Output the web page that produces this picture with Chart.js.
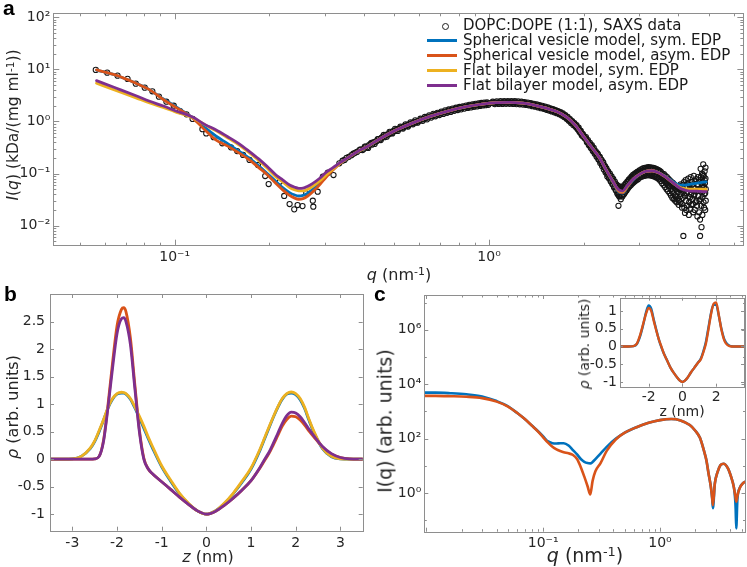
<!DOCTYPE html>
<html><head><meta charset="utf-8">
<script src="https://cdn.jsdelivr.net/npm/chart.js@4.4.1/dist/chart.umd.min.js"></script>
<style>
body{margin:0;background:#fff;}
#wrap{position:relative;width:747px;height:567px;overflow:hidden;background:#fff;font-family:'DejaVu Sans',sans-serif;color:#262626;}
canvas{position:absolute;}
.t{position:absolute;white-space:nowrap;line-height:1;}
.rot{transform:translate(-50%,-50%) rotate(-90deg);}
.ctr{transform:translate(-50%,-50%);}
sup{font-size:68%;vertical-align:0.45em;line-height:0;}
.lbl{position:absolute;font-family:'Liberation Sans',Arial,sans-serif;font-weight:bold;font-size:21px;line-height:21px;color:#000;}
.lg{position:absolute;font-size:15px;line-height:18px;white-space:nowrap;color:#1a1a1a;}
</style></head>
<body>
<div id="wrap">
<canvas id="ca" width="747" height="285" style="left:0;top:0"></canvas>
<canvas id="cb" width="372" height="287" style="left:0;top:280px"></canvas>
<canvas id="cc" width="375" height="287" style="left:372px;top:280px"></canvas>
<canvas id="ci" width="172" height="135" style="left:575px;top:285px"></canvas>

<div class="lbl" style="left:3px;top:-3px">a</div>
<div class="lbl" style="left:4px;top:283px">b</div>
<div class="lbl" style="left:374px;top:283px">c</div>

<div class="t rot" style="left:14px;top:125px;font-size:15.5px"><i>I</i>(<i>q</i>) (kDa/(mg ml<sup>-1</sup>))</div>
<div class="t ctr" style="left:399px;top:275px;font-size:16px"><i>q</i> (nm<sup>-1</sup>)</div>
<div class="t rot" style="left:13px;top:407px;font-size:16px"><i>ρ</i> (arb. units)</div>
<div class="t ctr" style="left:208px;top:557px;font-size:16px"><i>z</i> (nm)</div>
<div class="t rot" style="left:385px;top:421px;font-size:19px">I(q) (arb. units)</div>
<div class="t ctr" style="left:585px;top:555px;font-size:19px"><i>q</i> (nm<sup>-1</sup>)</div>
<div class="t rot" style="left:584px;top:344px;font-size:14px"><i>ρ</i> (arb. units)</div>
<div class="t ctr" style="left:682px;top:411px;font-size:14px">z (nm)</div>
<div id="legend"></div>
</div>
<script>
// ---------- Panel a: SAXS data (q in nm^-1, I in kDa/(mg ml^-1)) ----------
const saxsLowQ = [
[0.0561,9.8],[0.061,8.67],[0.0658,7.6],[0.0708,6.57],[0.0752,5.33],[0.0803,4.47],[0.0849,3.81],[0.0891,3.0],[0.0941,2.4],[0.0993,2.01],
[0.104,1.59],[0.109,1.37],[0.114,1.12],[0.1225,0.71],[0.126,0.59],[0.133,0.5],[0.1417,0.381],[0.151,0.319],[0.158,0.27],[0.165,0.227],
[0.173,0.182],[0.184,0.146],[0.194,0.0895],[0.199,0.0628],[0.216,0.0695],[0.223,0.037],[0.232,0.0259],[0.24,0.0205],[0.246,0.0248],[0.255,0.0237],
[0.262,0.0416],[0.275,0.03],[0.276,0.023],[0.285,0.0447],[0.296,0.0867],[0.307,0.1036],[0.32,0.0935],[0.334,0.157],[0.342,0.176],[0.347,0.182],
[0.352,0.2],[0.358,0.21],[0.365,0.225],[0.37,0.24],[0.375,0.25],[0.38,0.26],[0.387,0.283],[0.39,0.29],[0.396,0.283]
];
const saxsMidQ = [
[0.400,0.30],[0.405,0.33],[0.410,0.32],[0.415,0.35],[0.420,0.37],[0.425,0.36],[0.430,0.40],[0.435,0.41],[0.440,0.42],[0.445,0.46],
[0.450,0.45],[0.455,0.49],[0.460,0.51],[0.465,0.50],[0.470,0.55],[0.475,0.56],[0.480,0.57],[0.485,0.61],[0.490,0.60],[0.495,0.65],
[0.500,0.67],[0.505,0.66],[0.510,0.71],[0.515,0.72],[0.520,0.73],[0.525,0.77],[0.530,0.76],[0.535,0.80],[0.540,0.82],[0.545,0.81],
[0.550,0.86],[0.555,0.87],[0.560,0.88],[0.565,0.92],[0.570,0.91],[0.575,0.96],[0.580,0.97],[0.585,0.96],[0.590,1.01],[0.595,1.02],
[0.600,1.03],[0.61,1.09],[0.62,1.11],[0.63,1.17],[0.64,1.20],[0.65,1.26],[0.66,1.28],[0.67,1.34],[0.68,1.35],[0.69,1.41],
[0.70,1.43],[0.71,1.49],[0.72,1.50],[0.73,1.56],[0.74,1.57],[0.75,1.63],[0.76,1.64],[0.77,1.70],[0.78,1.71],[0.79,1.77],
[0.80,1.77],[0.81,1.83],[0.82,1.83],[0.83,1.89],[0.84,1.89],[0.85,1.94],[0.86,1.94],[0.87,1.99],[0.88,1.99],[0.89,2.04],
[0.90,2.04],[0.91,2.08],[0.92,2.08],[0.93,2.13],[0.94,2.12],[0.95,2.17],[0.96,2.16],[0.97,2.20],[0.98,2.19],[0.99,2.23],[1.00,2.22],
[0.4025,0.33],[0.4125,0.31],[0.4225,0.39],[0.4325,0.37],[0.4425,0.46],[0.4525,0.44],[0.4625,0.55],[0.4725,0.51],[0.4825,0.63],[0.4925,0.59],
[0.5025,0.72],[0.5125,0.66],[0.5225,0.80],[0.5325,0.73],[0.5425,0.88],[0.5525,0.80],[0.5625,0.96],[0.5725,0.88],[0.5825,1.05],[0.5925,0.95],
[0.605,1.13],[0.615,1.03],[0.625,1.22],[0.635,1.10],[0.645,1.31],[0.655,1.19],[0.665,1.40],[0.675,1.26],[0.685,1.47],[0.695,1.33],
[0.705,1.55],[0.715,1.40],[0.725,1.63],[0.735,1.47],[0.745,1.70],[0.755,1.53],[0.765,1.77],[0.775,1.60],[0.785,1.84],[0.795,1.66],
[0.805,1.90],[0.815,1.71],[0.825,1.96],[0.835,1.77],[0.845,2.02],[0.855,1.82],[0.865,2.08],[0.875,1.86],[0.885,2.13],[0.895,1.91],
[0.905,2.18],[0.915,1.95],[0.925,2.23],[0.935,1.99],[0.945,2.27],[0.955,2.03],[0.965,2.31],[0.975,2.06],[0.985,2.34],[0.995,2.09],
[1.02,2.27],[1.035,2.24],[1.05,2.32],[1.065,2.28],[1.08,2.34],[1.095,2.29],[1.11,2.35],[1.125,2.30],[1.14,2.36],[1.155,2.30],
[1.17,2.36],[1.185,2.29],[1.20,2.35],[1.215,2.28],[1.23,2.33],[1.245,2.26],[1.26,2.30],[1.275,2.22],[1.29,2.27],[1.305,2.18],
[1.32,2.23],[1.335,2.13],[1.35,2.18],[1.365,2.08],[1.38,2.12],[1.395,2.02],[1.41,2.06],[1.425,1.96],[1.44,2.00],[1.455,1.90],
[1.47,1.94],[1.485,1.83],[1.50,1.87],[1.515,1.77],[1.53,1.81],[1.545,1.70],[1.56,1.74],[1.575,1.64],[1.59,1.67],[1.605,1.58],
[1.62,1.61],[1.635,1.51],[1.65,1.55],[1.665,1.45],[1.68,1.48],[1.695,1.38],[1.71,1.40],[1.725,1.29],[1.74,1.31],[1.755,1.19],
[1.77,1.21],[1.785,1.09],[1.80,1.11],[1.815,1.00],[1.83,1.01],[1.845,0.92],[1.86,0.92],[1.875,0.84],[1.89,0.84],[1.905,0.75],
[1.92,0.74],[1.935,0.66],[1.95,0.66],[1.965,0.58],[1.98,0.58],[1.995,0.51],
[1.0275,2.40],[1.0425,2.16],[1.0575,2.44],[1.0725,2.17],[1.0875,2.45],[1.1025,2.18],[1.1175,2.46],[1.1325,2.19],[1.1475,2.47],[1.1625,2.19],
[1.1775,2.47],[1.1925,2.18],[1.2075,2.46],[1.2225,2.16],[1.2375,2.43],[1.2525,2.14],[1.2675,2.40],[1.2825,2.11],[1.2975,2.36],[1.3125,2.08],
[1.3275,2.31],[1.3425,2.03],[1.3575,2.26],[1.3725,1.97],[1.3875,2.19],[1.4025,1.92],[1.4175,2.13],[1.4325,1.86],[1.4475,2.07],[1.4625,1.80],
[1.4775,2.00],[1.4925,1.75],[1.5075,1.93],[1.5225,1.68],[1.5375,1.87],[1.5525,1.62],[1.5675,1.79],[1.5825,1.56],[1.5975,1.72],[1.6125,1.50],
[1.6275,1.65],[1.6425,1.44],[1.6575,1.59],[1.6725,1.38],[1.6875,1.52],[1.7025,1.31],[1.7175,1.43],[1.7325,1.22],[1.7475,1.33],[1.7625,1.13],
[1.7775,1.22],[1.7925,1.03],[1.8075,1.11],[1.8225,0.94],[1.8375,1.02],[1.8525,0.86],[1.8675,0.93],[1.8825,0.79],[1.8975,0.85],[1.9125,0.71],
[1.9275,0.76],[1.9425,0.62],[1.9575,0.66],[1.9725,0.54],[1.9875,0.57]
];
const saxsHighQ = [
[2.01,0.52],[2.025,0.47],[2.04,0.46],[2.055,0.41],[2.07,0.40],[2.085,0.36],[2.10,0.36],[2.115,0.32],[2.13,0.32],[2.145,0.28],
[2.16,0.28],[2.175,0.25],[2.19,0.25],[2.205,0.22],[2.22,0.23],[2.235,0.19],[2.25,0.21],[2.265,0.17],[2.28,0.18],[2.295,0.15],
[2.31,0.16],[2.325,0.13],[2.34,0.135],[2.355,0.11],[2.37,0.115],[2.385,0.095],[2.40,0.1],[2.415,0.083],[2.43,0.09],[2.445,0.072],
[2.46,0.08],[2.475,0.062],[2.49,0.07],[2.505,0.055],[2.52,0.062],[2.535,0.047],[2.55,0.056],[2.565,0.040],[2.58,0.052],[2.58,0.024],
[2.595,0.036],[2.61,0.05],[2.625,0.032],[2.64,0.049],[2.655,0.036],[2.67,0.052],[2.685,0.04],[2.70,0.056],[2.715,0.045],[2.73,0.062],
[2.745,0.05],[2.76,0.068],[2.775,0.056],[2.79,0.073],[2.805,0.06],[2.82,0.078],[2.835,0.066],[2.85,0.082],[2.865,0.07],[2.88,0.088],
[2.895,0.074],[2.91,0.092],[2.925,0.078],[2.94,0.097],[2.955,0.082],[2.97,0.1],[2.985,0.086],[3.0,0.104],[3.02,0.09],[3.04,0.11],
[3.06,0.094],[3.08,0.115],[3.10,0.097],[3.12,0.12],[3.14,0.1],[3.16,0.122],[3.18,0.102],[3.20,0.125],[3.22,0.1],[3.24,0.124],
[3.26,0.1],[3.28,0.123],[3.30,0.098],[3.32,0.121],[3.34,0.095],[3.36,0.118],[3.38,0.092],[3.40,0.114],[3.42,0.088],[3.44,0.11],
[3.46,0.084],[3.48,0.105],
[2.0175,0.47],[2.0325,0.50],[2.0475,0.40],[2.0625,0.44],[2.0775,0.35],[2.0925,0.39],[2.1075,0.31],[2.1225,0.35],[2.1375,0.27],[2.1525,0.31],
[2.1675,0.24],[2.1825,0.27],[2.1975,0.21],[2.2125,0.245],[2.2275,0.185],[2.2425,0.21],[2.2575,0.16],[2.2725,0.185],[2.2875,0.14],[2.3025,0.165],
[2.3175,0.12],[2.3325,0.14],[2.3475,0.105],[2.3625,0.125],[2.3775,0.088],[2.3925,0.11],[2.4075,0.08],[2.4225,0.1],[2.4375,0.07],[2.4525,0.088],
[2.4675,0.062],[2.4825,0.079],[2.4975,0.054],[2.5125,0.07],[2.5275,0.048],[2.5425,0.062],[2.5575,0.042],[2.5725,0.058],[2.5875,0.038],[2.6025,0.056],
[2.6175,0.037],[2.6325,0.055],[2.6475,0.038],[2.6625,0.056],[2.6775,0.04],[2.6925,0.06],[2.7075,0.043],[2.7225,0.065],[2.7375,0.047],[2.7525,0.07],
[2.7675,0.052],[2.7825,0.076],[2.7975,0.056],[2.8125,0.082],[2.8275,0.06],[2.8425,0.088],[2.8575,0.064],[2.8725,0.094],[2.8875,0.068],[2.9025,0.098],
[2.9175,0.072],[2.9325,0.103],[2.9475,0.075],[2.9625,0.107],[2.9775,0.078],[2.9925,0.11],[3.01,0.115],[3.03,0.085],[3.05,0.12],[3.07,0.088],
[3.09,0.125],[3.11,0.09],[3.13,0.128],[3.15,0.092],[3.17,0.13],[3.19,0.093],[3.21,0.132],[3.23,0.093],[3.25,0.131],[3.27,0.092],
[3.29,0.13],[3.31,0.09],[3.33,0.128],[3.35,0.088],[3.37,0.126],[3.39,0.085],[3.41,0.122],[3.43,0.082],[3.45,0.117],[3.47,0.078],[3.49,0.112]
];
const saxsNoisyQ = [
[3.50,0.088],[3.52,0.108],[3.54,0.082],[3.56,0.1],[3.58,0.076],[3.60,0.097],[3.62,0.07],[3.64,0.09],[3.66,0.066],[3.68,0.085],
[3.70,0.06],[3.72,0.079],[3.74,0.057],[3.76,0.074],[3.78,0.05],[3.80,0.069],[3.82,0.045],[3.84,0.066],[3.86,0.041],[3.88,0.062],
[3.90,0.038],[3.92,0.058],[3.94,0.036],[3.96,0.055],[3.98,0.033],[4.00,0.052],[4.02,0.03],[4.04,0.05],[4.06,0.028],[4.08,0.049],
[4.10,0.026],[4.12,0.06],[4.13,0.034],[4.15,0.0063],[4.16,0.045],[4.18,0.022],[4.20,0.0175],[4.21,0.056],[4.23,0.03],[4.25,0.042],
[4.27,0.024],[4.29,0.065],[4.31,0.036],[4.33,0.028],[4.35,0.05],[4.37,0.021],[4.39,0.04],[4.41,0.068],[4.43,0.032],[4.45,0.026],
[4.47,0.055],[4.49,0.038],[4.51,0.02],[4.53,0.07],[4.55,0.045],[4.57,0.03],[4.59,0.024],[4.61,0.06],[4.63,0.037],[4.65,0.075],
[4.66,0.018],[4.68,0.05],[4.69,0.0063],[4.69,0.013],[4.70,0.032],[4.71,0.123],[4.72,0.085],[4.73,0.024],[4.74,0.0093],[4.75,0.058],
[4.76,0.1],[4.77,0.035],[4.78,0.07],[4.79,0.045],[4.80,0.15],[4.81,0.028],[4.82,0.09],[4.83,0.055],[4.84,0.04],[4.85,0.11],
[4.86,0.065],[4.87,0.02],[4.88,0.08],[4.89,0.05],
[3.51,0.072],[3.53,0.095],[3.55,0.065],[3.57,0.088],[3.59,0.06],[3.61,0.083],[3.63,0.055],[3.65,0.078],[3.67,0.05],[3.69,0.072],
[3.71,0.046],[3.73,0.068],[3.75,0.042],[3.77,0.064],[3.79,0.038],[3.81,0.06],[3.83,0.034],[3.85,0.057],[3.87,0.032],[3.89,0.054],
[3.91,0.03],[3.93,0.05],[3.95,0.028],[3.97,0.047],[3.99,0.044],[4.01,0.025],[4.03,0.058],[4.05,0.036],[4.07,0.062],[4.09,0.04],
[4.11,0.022],[4.14,0.052],[4.17,0.068],[4.19,0.038],[4.22,0.075],[4.24,0.02],[4.26,0.055],[4.28,0.045],[4.30,0.08],[4.32,0.016],
[4.34,0.06],[4.36,0.035],[4.38,0.085],[4.40,0.025],[4.42,0.048],[4.44,0.062],[4.46,0.018],[4.48,0.09],[4.50,0.04],[4.52,0.052],
[4.54,0.028],[4.56,0.078],[4.58,0.046],[4.60,0.015],[4.62,0.085],[4.64,0.05],[4.67,0.03],[4.72,0.045],[4.74,0.065],[4.77,0.016],
[4.79,0.095],[4.81,0.06],[4.83,0.022],[4.85,0.075],[4.87,0.042],[4.88,0.13],[4.89,0.03]
];
const qModel = [0.0564,0.065,0.075,0.0833,0.092,0.1,0.1143,0.125,0.1355,0.147,0.16,0.173,0.185,0.197,0.21,0.221,0.232,0.24,0.248,0.256,
0.265,0.275,0.29,0.303,0.318,0.335,0.355,0.38,0.41,0.45,0.5,0.57,0.65,0.74,0.84,0.95,1.05,1.16,1.28,1.4,
1.52,1.64,1.76,1.88,2.0,2.12,2.24,2.36,2.48,2.58,2.66,2.76,2.88,3.0,3.15,3.3,3.45,3.6,3.75,3.9,
4.05,4.2,4.35,4.5,4.65,4.8,4.9];
const iSphSym = [9.7,7.75,5.5,4.05,2.7,2.0,1.17,0.76,0.52,0.38,0.27,0.195,0.14,0.1,0.07,0.053,0.043,0.039,0.037,0.038,
0.042,0.05,0.066,0.088,0.118,0.156,0.2,0.258,0.33,0.466,0.66,0.93,1.25,1.58,1.9,2.15,2.3,2.33,2.25,2.05,
1.8,1.55,1.22,0.85,0.51,0.32,0.205,0.116,0.068,0.045,0.042,0.056,0.077,0.094,0.11,0.114,0.106,0.092,0.078,0.066,
0.06,0.06,0.062,0.064,0.066,0.068,0.069];
const iSphAsym = [9.8,7.8,5.5,4.05,2.65,1.93,1.15,0.68,0.44,0.34,0.25,0.182,0.13,0.095,0.064,0.048,0.038,0.034,0.032,0.033,
0.037,0.0447,0.062,0.085,0.115,0.155,0.2,0.26,0.33,0.466,0.66,0.93,1.25,1.58,1.9,2.15,2.3,2.33,2.25,2.05,
1.8,1.55,1.22,0.85,0.51,0.32,0.205,0.116,0.069,0.046,0.043,0.057,0.078,0.095,0.11,0.113,0.105,0.09,0.075,0.062,
0.053,0.05,0.049,0.048,0.047,0.047,0.047];
const iFlatSym = [5.43,3.95,2.88,2.27,1.86,1.55,1.17,0.86,0.66,0.49,0.355,0.248,0.178,0.126,0.086,0.068,0.054,0.049,0.0465,0.0462,
0.05,0.057,0.073,0.093,0.12,0.155,0.198,0.258,0.33,0.466,0.66,0.93,1.25,1.58,1.9,2.15,2.3,2.33,2.25,2.05,
1.8,1.55,1.22,0.85,0.51,0.32,0.205,0.116,0.07,0.048,0.045,0.059,0.079,0.095,0.11,0.113,0.105,0.09,0.075,0.062,
0.054,0.051,0.05,0.05,0.05,0.05,0.05];
const iFlatAsym = [6.09,4.4,3.16,2.45,1.98,1.63,1.2,0.87,0.687,0.515,0.376,0.264,0.191,0.136,0.0935,0.075,0.06,0.055,0.052,0.0525,
0.057,0.0648,0.082,0.105,0.128,0.16,0.2,0.26,0.33,0.466,0.66,0.93,1.25,1.58,1.9,2.15,2.3,2.33,2.25,2.05,
1.8,1.55,1.22,0.85,0.51,0.32,0.205,0.116,0.07,0.049,0.046,0.06,0.079,0.095,0.11,0.113,0.105,0.09,0.075,0.062,
0.052,0.048,0.046,0.046,0.0455,0.045,0.045];
const legendLabels = ['DOPC:DOPE (1:1), SAXS data','Spherical vesicle model, sym. EDP','Spherical vesicle model, asym. EDP','Flat bilayer model, sym. EDP','Flat bilayer model, asym. EDP'];
const qTicksA = [0.1, 1];
const iTicksA = [0.01, 0.1, 1, 10, 100];

// ---------- Panel b: electron density profiles ----------
const zProfile = [-3.5,-3.2,-3.0,-2.8,-2.6,-2.5,-2.4,-2.3,-2.2,-2.1,-2.0,-1.9,-1.85,-1.8,-1.7,-1.6,-1.5,-1.4,-1.3,-1.2,
-1.0,-0.8,-0.6,-0.4,-0.2,0,0.2,0.4,0.6,0.8,1.0,1.2,1.3,1.4,1.5,1.6,1.7,1.8,1.9,2.0,
2.1,2.2,2.3,2.4,2.6,2.8,3.0,3.2,3.5];
const rhoSphSym = [0,0,0.005,0.05,0.19,0.32,0.5,0.71,0.93,1.09,1.18,1.2,1.2,1.18,1.09,0.93,0.75,0.56,0.37,0.19,
-0.14,-0.4,-0.63,-0.81,-0.94,-1.0,-0.94,-0.81,-0.63,-0.42,-0.18,0.16,0.36,0.56,0.76,0.94,1.09,1.18,1.2,1.17,
1.08,0.92,0.7,0.5,0.19,0.045,0.005,0,0];
const rhoSphAsym = [0,0,0,0,0,0.005,0.05,0.35,1.0,1.75,2.42,2.72,2.75,2.68,2.2,1.35,0.54,0.02,-0.18,-0.27,
-0.41,-0.55,-0.69,-0.82,-0.94,-1.0,-0.95,-0.84,-0.71,-0.56,-0.39,-0.16,-0.03,0.1,0.26,0.43,0.6,0.72,0.78,0.77,
0.71,0.62,0.51,0.41,0.22,0.09,0.03,0.005,0];
const rhoFlatSym = [0,0,0.005,0.05,0.2,0.33,0.52,0.72,0.94,1.1,1.19,1.215,1.21,1.19,1.1,0.95,0.78,0.6,0.4,0.22,
-0.12,-0.38,-0.62,-0.8,-0.94,-1.0,-0.94,-0.8,-0.62,-0.4,-0.16,0.18,0.38,0.58,0.77,0.95,1.1,1.19,1.22,1.19,
1.1,0.94,0.72,0.52,0.2,0.05,0.005,0,0];
const rhoFlatAsym = [0,0,0,0,0,0.005,0.05,0.33,0.95,1.65,2.28,2.55,2.57,2.5,2.08,1.28,0.5,0.0,-0.18,-0.27,
-0.41,-0.55,-0.69,-0.82,-0.94,-1.0,-0.95,-0.84,-0.71,-0.56,-0.39,-0.15,-0.01,0.12,0.29,0.47,0.65,0.79,0.855,0.84,
0.77,0.66,0.54,0.43,0.23,0.1,0.03,0.005,0];
const zTicksB = [-3,-2,-1,0,1,2,3];
const rhoTicksB = [-1,-0.5,0,0.5,1,1.5,2,2.5];

// ---------- Panel c: simulated scattering + inset EDPs ----------
const qSim = [0.0095,0.012,0.016,0.022,0.03,0.04,0.05,0.06,0.07,0.08,0.09,0.1,0.11,0.12,0.13,0.14,0.15,0.165,0.18,0.195,
0.21,0.225,0.24,0.253,0.265,0.28,0.31,0.35,0.42,0.5,0.63,0.8,1.0,1.25,1.5,1.8,2.0,2.2,2.4,2.5,
2.6,2.7,2.75,2.8,2.84,2.95,3.1,3.3,3.5,3.8,4.1,4.3,4.4,4.45,4.5,4.6,4.8,5.1,5.4];
const iSimSym = [4900,4900,4680,4270,3550,2400,1550,871,513,302,190,120,79,68,66,68,68,56,38,26.3,
17.8,14.1,12.6,12.3,13.8,17.8,28.2,50,100,166,263,380,479,525,468,316,200,107,31.6,15.8,
5.6,2.24,1.29,0.63,0.28,2.24,5.6,10.7,12,8.5,3.55,1.58,0.63,0.25,0.05,0.56,1.48,2.24,2.63];
const iSimAsym = [3720,3720,3630,3470,3090,2290,1510,871,513,302,186,112,71,50,40,35,31.6,28.8,25,17.8,
8.9,4.0,1.78,0.89,2.8,6.3,12.6,35.5,95,166,263,380,479,525,468,316,200,107,31.6,15.8,
5.6,2.24,1.29,0.66,0.36,2.24,5.6,10.7,12,8.5,3.55,1.58,0.89,0.63,0.48,0.79,1.48,2.24,2.63];
const qTicksC = [0.1, 1];
const iTicksC = [1, 100, 10000, 1000000];
const zInset = [-3.7,-3.2,-2.9,-2.7,-2.5,-2.3,-2.15,-2.0,-1.85,-1.7,-1.55,-1.4,-1.25,-1.1,-0.9,-0.7,-0.5,-0.3,-0.15,0,
0.15,0.3,0.5,0.7,0.9,1.1,1.25,1.4,1.55,1.7,1.85,2.0,2.15,2.3,2.5,2.7,2.9,3.2,3.65];
const rhoInsetSym = [0,0,0.01,0.07,0.3,0.66,0.97,1.15,1.06,0.76,0.47,0.2,-0.02,-0.2,-0.4,-0.6,-0.75,-0.88,-0.96,-1.0,
-0.96,-0.88,-0.73,-0.6,-0.47,-0.33,-0.12,0.15,0.55,0.95,1.18,1.17,0.88,0.52,0.18,0.05,0.005,0,0];
const rhoInsetAsym = [0,0,0.01,0.08,0.33,0.68,0.93,1.08,1.0,0.72,0.45,0.2,0.0,-0.2,-0.4,-0.6,-0.75,-0.88,-0.96,-1.0,
-0.96,-0.88,-0.73,-0.6,-0.47,-0.35,-0.15,0.1,0.5,0.92,1.2,1.24,0.9,0.5,0.15,0.03,0.0,0,0];
const zTicksIn = [-2,0,2];
const rhoTicksIn = [-1,-0.5,0,0.5,1];

// ---------- styling / helpers ----------
const COLORS = ['#0072BD','#D95319','#EDB120','#7E2F8E'];
const tickFont = {family:"'DejaVu Sans', sans-serif", size:14};
const supMap = {'-':'⁻','0':'⁰','1':'¹','2':'²','3':'³','4':'⁴','5':'⁵','6':'⁶','7':'⁷','8':'⁸','9':'⁹'};
function pow10Label(v){ const e = Math.round(Math.log10(v)); return '10' + String(e).split('').map(c => supMap[c]).join(''); }
function plainLabel(v){ return String(v); }

function axis(type, min, max, tickVals, fmt, pad, size, isX){
  return {
    type, min, max,
    grid:{display:false, drawTicks:false},
    border:{display:false},
    ticks:{font:tickFont, color:'#262626', padding:pad, autoSkip:false, maxRotation:0, minRotation:0, callback:fmt},
    afterBuildTicks: s => { s.ticks = tickVals.map(v => ({value:v})); },
    afterFit: s => { if (isX) s.height = size; else s.width = size; s.paddingLeft = 0; s.paddingRight = 0; s.paddingTop = 0; s.paddingBottom = 0; }
  };
}
function decadeMinors(lo, hi){ const out=[]; for (let d=lo; d<hi; d*=10){ for (let k=2;k<=9;k++) out.push(k*d); } return out; }

const boxTicks = {
  id:'boxTicks',
  afterDraw(chart, args, o){
    const ctx = chart.ctx, a = chart.chartArea, sx = chart.scales.x, sy = chart.scales.y;
    ctx.save();
    ctx.strokeStyle = o.color; ctx.lineWidth = 1;
    ctx.beginPath();
    const seg = (x1,y1,x2,y2) => { ctx.moveTo(x1,y1); ctx.lineTo(x2,y2); };
    const xs = (list,len) => (list||[]).forEach(v => { const p = Math.round(sx.getPixelForValue(v))+0.5; if (p < a.left+1 || p > a.right-1) return; seg(p,a.bottom,p,a.bottom-len); seg(p,a.top,p,a.top+len); });
    const ys = (list,len) => (list||[]).forEach(v => { const p = Math.round(sy.getPixelForValue(v))+0.5; if (p < a.top+1 || p > a.bottom-1) return; seg(a.left,p,a.left+len,p); seg(a.right,p,a.right-len,p); });
    xs(o.xMajor,o.major); xs(o.xMinor,o.minor); ys(o.yMajor,o.major); ys(o.yMinor,o.minor);
    ctx.stroke();
    ctx.strokeRect(Math.round(a.left)+0.5, Math.round(a.top)+0.5, Math.round(a.right-a.left), Math.round(a.bottom-a.top));
    ctx.restore();
  }
};

function lineSet(label, xs, ys, color, width, order){
  return {label, data: xs.map((x,i) => ({x, y: ys[i]})), showLine:true, borderColor:color, backgroundColor:color,
    borderWidth:width, pointRadius:0, pointHoverRadius:0, cubicInterpolationMode:'monotone', fill:false,
    borderJoinStyle:'round', borderCapStyle:'round', order};
}
const common = {responsive:false, animation:false, events:[], maintainAspectRatio:false};
const noLegend = {legend:{display:false}, tooltip:{enabled:false}};
const saxsPoints = saxsLowQ.concat(saxsMidQ, saxsHighQ, saxsNoisyQ);

// ---------- Chart a ----------
new Chart(document.getElementById('ca'), {
  type:'scatter',
  data:{datasets:[
    {label:legendLabels[0], data:saxsPoints.map(p => ({x:p[0], y:p[1]})), showLine:false, pointStyle:'circle',
     pointRadius:2.6, pointHoverRadius:2.6, pointBorderWidth:1.05, pointBorderColor:'#151515', pointBackgroundColor:'rgba(0,0,0,0)', order:10},
    lineSet(legendLabels[1], qModel, iSphSym, COLORS[0], 2.8, 4),
    lineSet(legendLabels[2], qModel, iSphAsym, COLORS[1], 2.8, 3),
    lineSet(legendLabels[3], qModel, iFlatSym, COLORS[2], 2.8, 2),
    lineSet(legendLabels[4], qModel, iFlatAsym, COLORS[3], 2.8, 1)
  ]},
  options:{...common,
    layout:{padding:{left:0, top:13.3, right:2.3, bottom:0}},
    plugins:{...noLegend, boxTicks:{color:'#8e8e8e', major:6, minor:3,
      xMajor:qTicksA, xMinor:decadeMinors(0.01, 10),
      yMajor:iTicksA, yMinor:decadeMinors(0.001, 1000)}},
    scales:{
      x: axis('logarithmic', 0.0411, 6.44, qTicksA, pow10Label, 3, 285-245.7, true),
      y: axis('logarithmic', 0.0041, 120, iTicksA, pow10Label, 3, 53.3, false)
    }},
  plugins:[boxTicks]
});

// legend for panel a (built from labels & colours)
(function(){
  const lg = document.getElementById('legend');
  const rows = [25.7, 40.7, 55.7, 70.7, 85.7];
  legendLabels.forEach((txt, i) => {
    const cy = rows[i];
    const m = document.createElement('div');
    if (i === 0) {
      m.style.cssText = `position:absolute;left:${445-3}px;top:${cy-3}px;width:5px;height:5px;border:1px solid #1c1c1c;border-radius:50%;`;
    } else {
      m.style.cssText = `position:absolute;left:427px;top:${cy-1.5}px;width:30px;height:3px;background:${COLORS[i-1]};`;
    }
    lg.appendChild(m);
    const t = document.createElement('div');
    t.className = 'lg';
    t.style.left = '463px'; t.style.top = (cy-9.5) + 'px';
    t.textContent = txt;
    lg.appendChild(t);
  });
})();

// ---------- Chart b ----------
new Chart(document.getElementById('cb'), {
  type:'scatter',
  data:{datasets:[
    lineSet('sym. spherical', zProfile, rhoSphSym, COLORS[0], 2.8, 4),
    lineSet('asym. spherical', zProfile, rhoSphAsym, COLORS[1], 2.8, 3),
    lineSet('sym. flat', zProfile, rhoFlatSym, COLORS[2], 2.8, 2),
    lineSet('asym. flat', zProfile, rhoFlatAsym, COLORS[3], 2.8, 1)
  ]},
  options:{...common,
    layout:{padding:{left:0, top:14, right:9.3, bottom:0}},
    plugins:{...noLegend, boxTicks:{color:'#8e8e8e', major:4, minor:2, xMajor:zTicksB, yMajor:rhoTicksB}},
    scales:{
      x: axis('linear', -3.5, 3.5, zTicksB, plainLabel, 4, 287-14-236.7, true),
      y: axis('linear', -1.3, 3.0, rhoTicksB, plainLabel, 5, 50, false)
    }},
  plugins:[boxTicks]
});

// ---------- Chart c ----------
new Chart(document.getElementById('cc'), {
  type:'scatter',
  data:{datasets:[
    lineSet('symmetric EDP', qSim, iSimSym, COLORS[0], 2.6, 2),
    lineSet('asymmetric EDP', qSim, iSimAsym, COLORS[1], 2.6, 1)
  ]},
  options:{...common,
    layout:{padding:{left:0, top:15, right:1.5, bottom:0}},
    plugins:{...noLegend, boxTicks:{color:'#8e8e8e', major:4, minor:2.5,
      xMajor:[0.01,0.1,1], xMinor:decadeMinors(0.01, 10),
      yMajor:iTicksC, yMinor:[0.1,10,1000,100000,10000000]}},
    scales:{
      x: axis('logarithmic', 0.0096, 5.4, qTicksC, pow10Label, 3, 287-15-236.7, true),
      y: axis('logarithmic', 0.038, 1.9e7, iTicksC, pow10Label, 3, 52.3, false)
    }},
  plugins:[boxTicks]
});

// ---------- Inset ----------
new Chart(document.getElementById('ci'), {
  type:'scatter',
  data:{datasets:[
    lineSet('symmetric EDP', zInset, rhoInsetSym, COLORS[0], 2.4, 2),
    lineSet('asymmetric EDP', zInset, rhoInsetAsym, COLORS[1], 2.4, 1)
  ]},
  options:{...common,
    layout:{padding:{left:0, top:12.7, right:3, bottom:0}},
    plugins:{...noLegend, boxTicks:{color:'#8e8e8e', major:3, minor:2, xMajor:zTicksIn, yMajor:rhoTicksIn}},
    scales:{
      x: axis('linear', -3.7, 3.65, zTicksIn, plainLabel, 2, 135-12.7-89, true),
      y: axis('linear', -1.13, 1.37, rhoTicksIn, plainLabel, 3, 45, false)
    }},
  plugins:[boxTicks]
});
</script>
</body></html>
